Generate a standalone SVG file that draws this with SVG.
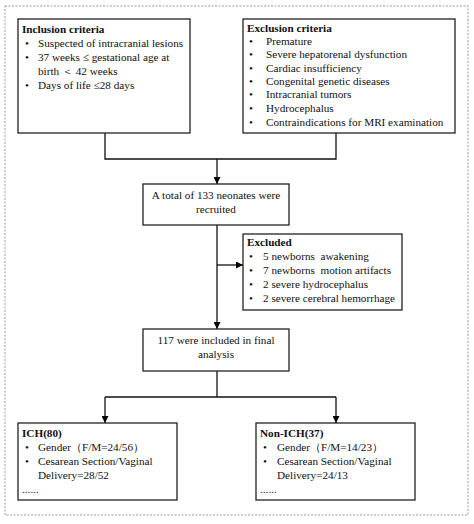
<svg xmlns="http://www.w3.org/2000/svg" width="474" height="524" viewBox="0 0 474 524">
<defs>
<marker id="ah" viewBox="0 0 10 10" refX="10" refY="5" markerWidth="9" markerHeight="7" markerUnits="userSpaceOnUse" orient="auto"><path d="M0,0 L10,5 L0,10 z" fill="#000"/></marker>
<style>
.box{fill:#fff;stroke:#222;stroke-width:1.3}
.t{font-family:"Liberation Serif","Times New Roman",serif;font-size:11.2px;fill:#111}
.b{font-weight:bold}
.c{text-anchor:middle}
.ln{fill:none;stroke:#111;stroke-width:1.3}
</style>
</defs>
<rect width="474" height="524" fill="#fff"/>
<rect x="5" y="6" width="463" height="509" fill="none" stroke="#999" stroke-width="1" stroke-dasharray="2,1.5"/>
<g id="connectors">
<path class="ln" d="M105,133 V159 H336 V133"/>
<path class="ln" d="M217,159 V184" marker-end="url(#ah)"/>
<path class="ln" d="M217,225 V329" marker-end="url(#ah)"/>
<path class="ln" d="M217,265 H243" marker-end="url(#ah)"/>
<path class="ln" d="M217,371 V397"/>
<path class="ln" d="M105,397 H336"/>
<path class="ln" d="M105,397 V423" marker-end="url(#ah)"/>
<path class="ln" d="M336,397 V423" marker-end="url(#ah)"/>
</g>
<g id="inclusion">
<rect class="box" x="18" y="19" width="172" height="114"/>
<text class="t b" x="22" y="33">Inclusion criteria</text>
<text class="t" x="25" y="47">•</text><text class="t" x="38" y="47">Suspected of intracranial lesions</text>
<text class="t" x="25" y="61">•</text><text class="t" x="38" y="61">37 weeks ≤ gestational age at</text>
<text class="t" x="38" y="75">birth ＜ 42 weeks</text>
<text class="t" x="25" y="89">•</text><text class="t" x="38" y="89">Days of life ≤28 days</text>
</g>
<g id="exclusion">
<rect class="box" x="243" y="19" width="212" height="114"/>
<text class="t b" x="247" y="32">Exclusion criteria</text>
<text class="t" x="249" y="45">•</text><text class="t" x="266" y="45">Premature</text>
<text class="t" x="249" y="58">•</text><text class="t" x="266" y="58">Severe hepatorenal dysfunction</text>
<text class="t" x="249" y="72">•</text><text class="t" x="266" y="72">Cardiac insufficiency</text>
<text class="t" x="249" y="85">•</text><text class="t" x="266" y="85">Congenital genetic diseases</text>
<text class="t" x="249" y="98">•</text><text class="t" x="266" y="98">Intracranial tumors</text>
<text class="t" x="249" y="112">•</text><text class="t" x="266" y="112">Hydrocephalus</text>
<text class="t" x="249" y="126">•</text><text class="t" x="266" y="126">Contraindications for MRI examination</text>
</g>
<g id="recruited">
<rect class="box" x="143" y="184" width="146" height="41"/>
<text class="t c" x="216" y="199">A total of 133 neonates were</text>
<text class="t c" x="216" y="213">recruited</text>
</g>
<g id="excluded">
<rect class="box" x="243" y="234" width="159" height="76"/>
<text class="t b" x="247" y="246">Excluded</text>
<text class="t" x="249" y="260">•</text><text class="t" x="263" y="260">5 newborns&#160; awakening</text>
<text class="t" x="249" y="274">•</text><text class="t" x="263" y="274">7 newborns&#160; motion artifacts</text>
<text class="t" x="249" y="288">•</text><text class="t" x="263" y="288">2 severe hydrocephalus</text>
<text class="t" x="249" y="302">•</text><text class="t" x="263" y="302">2 severe cerebral hemorrhage</text>
</g>
<g id="final">
<rect class="box" x="143" y="329" width="146" height="42"/>
<text class="t c" x="216" y="344">117 were included in final</text>
<text class="t c" x="216" y="358">analysis</text>
</g>
<g id="ich">
<rect class="box" x="18" y="423" width="159" height="77"/>
<text class="t b" x="22" y="437">ICH(80)</text>
<text class="t" x="25" y="451">•</text><text class="t" x="38" y="451">Gender（F/M=24/56）</text>
<text class="t" x="25" y="465">•</text><text class="t" x="38" y="465">Cesarean Section/Vaginal</text>
<text class="t" x="38" y="479">Delivery=28/52</text>
<text class="t" x="22" y="493">......</text>
</g>
<g id="nonich">
<rect class="box" x="256" y="423" width="159" height="77"/>
<text class="t b" x="260" y="437">Non-ICH(37)</text>
<text class="t" x="263" y="451">•</text><text class="t" x="277" y="451">Gender（F/M=14/23）</text>
<text class="t" x="263" y="465">•</text><text class="t" x="277" y="465">Cesarean Section/Vaginal</text>
<text class="t" x="277" y="479">Delivery=24/13</text>
<text class="t" x="260" y="493">......</text>
</g>
</svg>
